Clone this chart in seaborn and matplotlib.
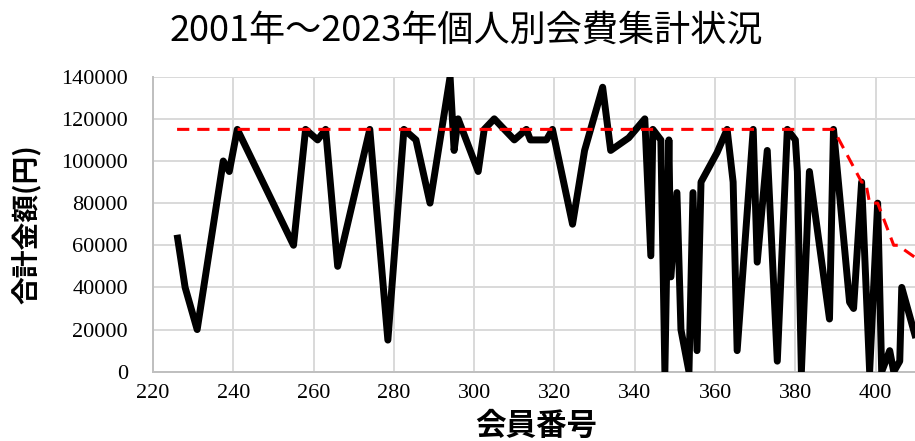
import matplotlib
matplotlib.use("Agg")
import matplotlib.pyplot as plt
import seaborn as sns
import pandas as pd

# Member number vs. total fees paid (2001-2023)
member_no = [226, 228, 231, 237.5, 239, 241, 255, 258, 261, 263, 266, 274, 278.5,
             282.5, 285.5, 289, 294, 295, 296, 301, 302.5, 305, 310, 313, 314, 318,
             319.5, 324.5, 327.5, 332, 334, 338.5, 342.5, 344, 344.5, 346.5, 347.5,
             348.5, 349, 350.5, 351.5, 353.5, 354.5, 355.5, 356.5, 360.5, 363, 364.5,
             365.5, 369.5, 370.5, 373, 375.5, 378, 380, 380.5, 381.5, 383.5, 388.5,
             389.5, 393.5, 394.5, 396.5, 398.5, 400.5, 401.5, 403.5, 404.5, 406,
             406.5, 410]
total_paid = [65000, 40000, 20000, 100000, 95000, 115000, 60000, 115000, 110000,
              115000, 50000, 115000, 15000, 115000, 110000, 80000, 140000, 105000,
              120000, 95000, 115000, 120000, 110000, 115000, 110000, 110000, 115000,
              70000, 105000, 135000, 105000, 111000, 120000, 55000, 115000, 110000, 0,
              110000, 45000, 85000, 20000, 0, 85000, 10000, 90000, 104000, 115000,
              90000, 10000, 115000, 52000, 105000, 5000, 115000, 110000, 95000, 0,
              95000, 25000, 115000, 33000, 30000, 90000, 0, 80000, 0, 10000, 0, 5000,
              40000, 16000]

# Expected full amount by member number
ref_no = [226, 389.5, 396.5, 397.5, 398.5, 400.5, 404.5, 405.5, 410]
ref_amount = [115000, 115000, 90000, 90000, 80000, 80000, 60000, 60000, 54000]

y_ticks = [0, 20000, 40000, 60000, 80000, 100000, 120000, 140000]
x_ticks = [220, 240, 260, 280, 300, 320, 340, 360, 380, 400]

title = "2001年～2023年個人別会費集計状況"
x_label = "会員番号"
y_label = "合計金額(円)"

sns.set_style("white")
plt.rcParams["font.family"] = ["Noto Sans CJK JP", "DejaVu Sans"]
plt.rcParams["text.color"] = "black"
plt.rcParams["xtick.color"] = "black"
plt.rcParams["ytick.color"] = "black"

paid_df = pd.DataFrame({"no": member_no, "amount": total_paid})
ref_df = pd.DataFrame({"no": ref_no, "amount": ref_amount})

fig = plt.figure(figsize=(9.15, 4.41), dpi=100)
ax = fig.add_axes([153 / 915, 1 - 371.7 / 441, 1 - 153 / 915, (371.7 - 76.7) / 441])

sns.lineplot(data=paid_df, x="no", y="amount", ax=ax, color="black",
             linewidth=5.0, estimator=None, sort=False,
             solid_joinstyle="round", solid_capstyle="butt", zorder=3)
sns.lineplot(data=ref_df, x="no", y="amount", ax=ax, color="#ff0000",
             linewidth=2.2, estimator=None, sort=False, zorder=4,
             dashes=False)
ax.lines[-1].set_linestyle((0, (4, 2.6)))

ax.set_xlim(220, 409.8)
ax.set_ylim(0, 140000)
ax.set_xticks(x_ticks)
ax.set_yticks(y_ticks)
ax.set_xticklabels([str(v) for v in x_ticks], family="Liberation Serif", fontsize=16)
ax.set_yticklabels([str(v) for v in y_ticks], family="Liberation Serif", fontsize=16)
ax.tick_params(axis="y", length=0, pad=18)
ax.tick_params(axis="x", length=0, pad=9)

ax.grid(True, color="#d9d9d9", linewidth=1.4)
ax.set_axisbelow(True)
for side in ["top", "right"]:
    ax.spines[side].set_visible(False)
for side in ["left", "bottom"]:
    ax.spines[side].set_color("#bfbfbf")
    ax.spines[side].set_linewidth(1.4)

ax.set_xlabel("")
ax.set_ylabel("")
fig.text(27 / 915, 1 - 224 / 441, y_label, rotation=90, ha="center", va="center",
         fontsize=20, fontweight="bold")
fig.text(536 / 915, 1 - 426 / 441, x_label, ha="center", va="center",
         fontsize=22, fontweight="bold")
fig.text(466 / 915, 1 - 31 / 441, title, ha="center", va="center", fontsize=26)

fig.savefig("out.png", dpi=100)
